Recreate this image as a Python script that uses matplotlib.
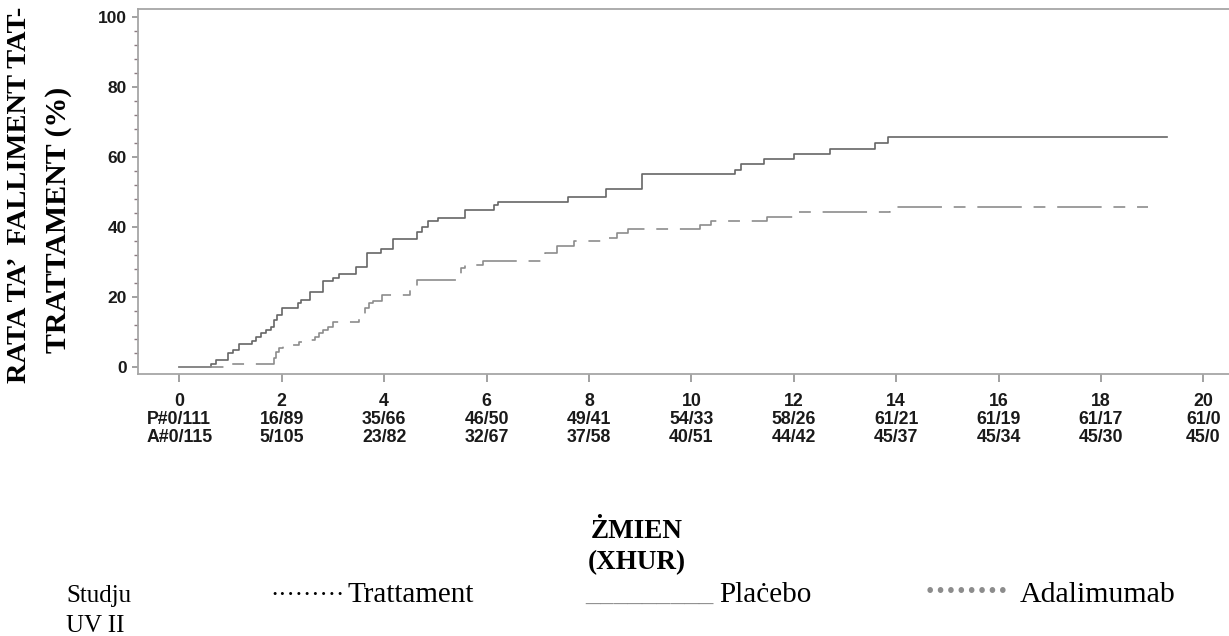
import matplotlib
matplotlib.use("Agg")
import matplotlib.pyplot as plt
from matplotlib.ticker import MultipleLocator

# Kaplan-Meier cumulative treatment-failure estimates (%), months
placebo_t = [0, 0.62, 0.72, 0.96, 1.05, 1.17, 1.41, 1.50, 1.60, 1.69, 1.80, 1.85,
             1.90, 2.00, 2.32, 2.37, 2.55, 2.80, 3.01, 3.11, 3.46, 3.66, 3.93, 4.18,
             4.64, 4.73, 4.85, 5.06, 5.57, 6.15, 6.22, 7.60, 8.34, 9.03, 10.85, 10.96,
             11.42, 12.01, 12.70, 13.59, 13.85, 19.28]
placebo_y = [0, 1.0, 2.0, 3.9, 4.9, 6.6, 7.5, 8.5, 9.6, 10.6, 11.5, 13.4,
             14.9, 17.0, 18.2, 19.1, 21.5, 24.6, 25.5, 26.6, 28.7, 32.5, 33.6, 36.5,
             38.7, 40.1, 41.7, 42.7, 44.9, 46.3, 47.2, 48.5, 51.0, 55.1, 56.4, 58.0,
             59.3, 60.9, 62.3, 63.9, 65.7, 65.7]

adalimumab_t = [0, 0.96, 1.84, 1.88, 1.95, 2.02, 2.33, 2.42, 2.65, 2.72, 2.81, 2.90,
                3.00, 3.50, 3.62, 3.70, 3.79, 3.95, 4.50, 4.64, 5.40, 5.51, 5.57, 5.94,
                7.14, 7.37, 7.70, 8.34, 8.54, 8.77, 10.17, 10.38, 11.47, 11.99, 13.88, 18.92]
adalimumab_y = [0, 1.0, 2.5, 4.4, 5.4, 6.3, 7.2, 7.7, 8.7, 9.6, 10.6, 11.5,
                12.9, 14.9, 16.8, 18.2, 18.8, 20.6, 22.5, 24.9, 25.8, 28.2, 29.1, 30.4,
                32.5, 34.6, 36.1, 37.0, 38.2, 39.3, 40.5, 41.8, 43.0, 44.4, 45.6, 45.6]

# Number at risk table (events / at risk) under each month tick
month_ticks = [0, 2, 4, 6, 8, 10, 12, 14, 16, 18, 20]
placebo_risk = ["P#0/111", "16/89", "35/66", "46/50", "49/41", "54/33", "58/26",
                "61/21", "61/19", "61/17", "61/0"]
adalimumab_risk = ["A#0/115", "5/105", "23/82", "32/67", "37/58", "40/51", "44/42",
                   "45/37", "45/34", "45/30", "45/0"]

W, H = 1229, 636
plt.rcParams["lines.scale_dashes"] = False
sans = ["Liberation Sans", "DejaVu Sans"]
serif = ["Liberation Serif", "DejaVu Serif"]

fig = plt.figure(figsize=(W / 100, H / 100), dpi=100)
ax = fig.add_axes([138 / W, 1 - 374 / H, 1 - 138 / W, (374 - 9) / H])

ax.step(placebo_t, placebo_y, where="post", color="#666666", lw=1.2)
ax.step(adalimumab_t, adalimumab_y, where="post", color="#8c8c8c", lw=1.2,
        dashes=(32, 8.5, 8.5, 8.5))

ax.set_xlim(-0.807, 20.50)
ax.set_ylim(-2.0, 102.3)

spine_c = "#a6a6a6"
for side in ("left", "top", "bottom"):
    ax.spines[side].set_color(spine_c)
    ax.spines[side].set_linewidth(1.3)
ax.spines["right"].set_visible(False)

ax.yaxis.set_major_locator(MultipleLocator(20))
ax.yaxis.set_minor_locator(MultipleLocator(4))
ax.tick_params(axis="y", which="major", direction="out", length=4, width=1.1,
               color="#888888", pad=4, labelsize=12.5)
ax.tick_params(axis="y", which="minor", direction="out", length=3, width=1.0,
               color="#8a7a80")
for lab in ax.get_yticklabels():
    lab.set_fontweight("bold")
    lab.set_family(sans)
    lab.set_color("#1a1a1a")

ax.set_xticks(month_ticks)
ax.set_xticklabels([])
ax.tick_params(axis="x", direction="out", length=6, width=1.1, color="#888888")

trans = ax.get_xaxis_transform()
rows = [[str(m) for m in month_ticks], placebo_risk, adalimumab_risk]
row_y = [401, 419, 437]
for labels, py in zip(rows, row_y):
    yfrac = (374 - py) / (374 - 9)
    for m, lab in zip(month_ticks, labels):
        ax.text(m, yfrac, lab, transform=trans, ha="center", va="center",
                fontsize=12.8, fontweight="bold", family=sans, color="#1a1a1a")

# vertical axis title
fig.text(20 / W, 1 - 195 / H, "RATA TA’  FALLIMENT TAT-", rotation=90,
         ha="center", va="center", fontsize=20.5, fontweight="bold", family=serif)
fig.text(59 / W, 1 - 220 / H, "TRATTAMENT (%)", rotation=90,
         ha="center", va="center", fontsize=21.5, fontweight="bold", family=serif)

# horizontal axis title
fig.text(637 / W, 1 - 531 / H, "ŻMIEN", ha="center", va="center",
         fontsize=19.5, fontweight="bold", family=serif)
fig.text(637 / W, 1 - 563 / H, "(XHUR)", ha="center", va="center",
         fontsize=19.5, fontweight="bold", family=serif)

# key
fs = 21
base1 = 1 - 602 / H
fig.text(66 / W, base1, "Studju", ha="left", va="baseline", fontsize=18, family=serif)
fig.text(66 / W, 1 - 632 / H, "UV II", ha="left", va="baseline", fontsize=18, family=serif)
fig.text(270 / W, base1, "·········", ha="left", va="baseline", fontsize=18, family=serif)
fig.text(347 / W, base1, "Trattament", ha="left", va="baseline", fontsize=fs, family=serif)
fig.text(585 / W, base1, "_________", ha="left", va="baseline", fontsize=20.5,
         family=serif, color="#8c8c8c")
fig.text(719 / W, base1, "Plaċebo", ha="left", va="baseline", fontsize=fs, family=serif)
fig.text(926 / W, 1 - 598 / H, "\u200a".join("•" * 8), ha="left", va="baseline",
         fontsize=17, family=serif, color="#8c8c8c")
fig.text(1020 / W, base1, "Adalimumab", ha="left", va="baseline", fontsize=21.5,
         family=serif)

fig.savefig("out.png", dpi=100, facecolor="white")
